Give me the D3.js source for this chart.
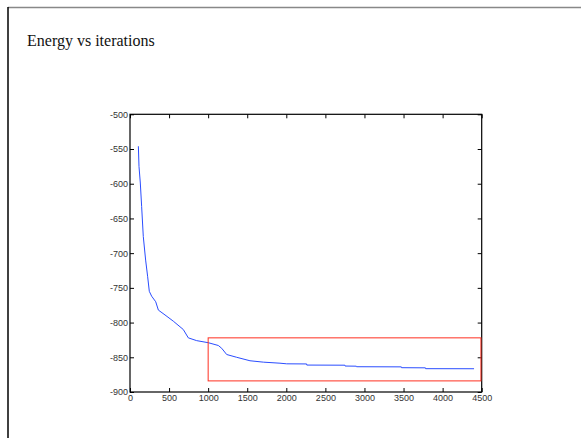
<!DOCTYPE html>
<html><head><meta charset="utf-8">
<script src="https://cdn.jsdelivr.net/npm/d3@7"></script>
<style>body{margin:0;background:#fff}svg{display:block}</style>
</head><body>
<script>
const iterations = [107,115,132,149,170,200,226,247,277,329,363,448,554,682,746,853,1002,1130,1173,1237,1365,1535,1706,1919,2005,2260,2262,2750,2752,2896,2898,3472,3474,3780,3782,4402];
const energy = [-546,-575,-599,-633,-676,-710,-734,-755,-762,-770,-782,-789,-798,-810,-822,-826,-829,-833,-837,-846,-850,-855,-857,-858.5,-859.4,-859.6,-861.2,-861.4,-862.6,-862.8,-863.6,-863.8,-865,-865.2,-866.4,-866.5];
const xTicks = [0,500,1000,1500,2000,2500,3000,3500,4000,4500];
const yTicks = [-500,-550,-600,-650,-700,-750,-800,-850,-900];
const zoomBoxX = [1000,4490];
const zoomBoxY = [-822,-884];
const title = "Energy vs iterations";

const W=581,H=438;
const svg=d3.select("body").append("svg").attr("width",W).attr("height",H);
svg.append("line").attr("x1",8).attr("x2",W).attr("y1",7.5).attr("y2",7.5).attr("stroke","#888").attr("stroke-width",1.5);
svg.append("line").attr("x1",8).attr("x2",8).attr("y1",7).attr("y2",H).attr("stroke","#000").attr("stroke-width",1.5);
svg.append("text").attr("x",27).attr("y",46).attr("font-family","'Liberation Serif','Times New Roman',serif").attr("font-size",16).attr("fill","#111").text(title);

const L=130,R=481.7,T=114.3,B=392;
const x=d3.scaleLinear().domain([0,4500]).range([L,R]);
const y=d3.scaleLinear().domain([-900,-500]).range([B,T]);

const fnt="'Liberation Sans',Arial,sans-serif";
const ax=(g)=>{g.selectAll("text").attr("font-family",fnt).attr("font-size",9).attr("fill","#333");g.selectAll("line").attr("stroke","#000");g.select(".domain").remove();};
svg.append("g").attr("transform",`translate(0,${B})`).call(d3.axisBottom(x).tickValues(xTicks).tickSize(-4).tickPadding(3).tickFormat(d=>String(d))).call(ax);
svg.append("g").attr("transform",`translate(${L},0)`).call(d3.axisLeft(y).tickValues(yTicks).tickSize(-4).tickPadding(2).tickFormat(d=>String(d))).call(ax);
svg.append("g").attr("transform",`translate(0,${T})`).call(d3.axisTop(x).tickValues(xTicks).tickSize(-4).tickFormat("")).call(ax);
svg.append("g").attr("transform",`translate(${R},0)`).call(d3.axisRight(y).tickValues(yTicks).tickSize(-4).tickFormat("")).call(ax);
svg.append("rect").attr("x",L).attr("y",T).attr("width",R-L).attr("height",B-T).attr("fill","none").attr("stroke","#000").attr("stroke-width",1.2);

const pts=iterations.map((d,i)=>[d,energy[i]]);
svg.append("path").datum(pts).attr("d",d3.line().x(d=>x(d[0])).y(d=>y(d[1]))).attr("fill","none").attr("stroke","#2a4dff").attr("stroke-width",1);

svg.append("rect").attr("x",x(zoomBoxX[0])).attr("y",y(zoomBoxY[0])).attr("width",x(zoomBoxX[1])-x(zoomBoxX[0])).attr("height",y(zoomBoxY[1])-y(zoomBoxY[0])).attr("fill","none").attr("stroke","#ff3020").attr("stroke-width",1);
</script>
</body></html>
